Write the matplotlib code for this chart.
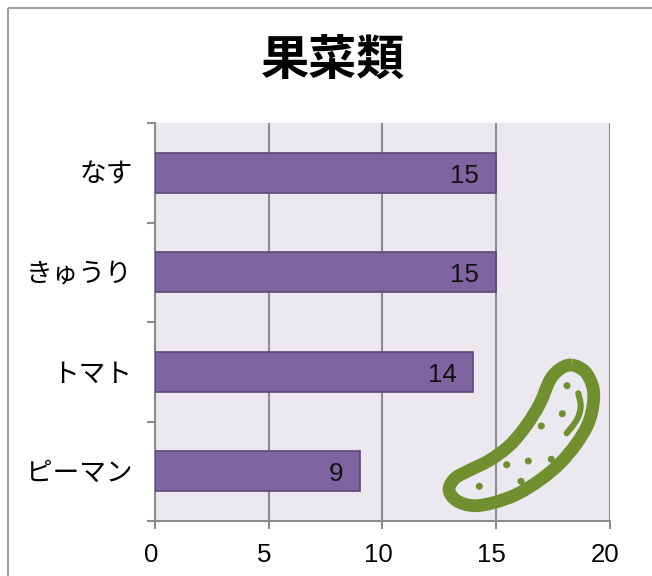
import matplotlib
matplotlib.use('Agg')
import matplotlib.pyplot as plt
from matplotlib.path import Path
from matplotlib.patches import PathPatch, Rectangle, Circle
from matplotlib.transforms import Affine2D, ScaledTranslation

plt.rcParams['font.family'] = ['Noto Sans CJK JP', 'DejaVu Sans']

categories = ['ピーマン', 'トマト', 'きゅうり', 'なす']
values = [9, 14, 15, 15]
xticks = [0, 5, 10, 15, 20]

W, H = 652, 576
GRAY = '#8c8c8c'
GREEN = '#70902f'
fig = plt.figure(figsize=(W / 100, H / 100), dpi=100)
# pixel coordinates, origin top left
px = Affine2D().scale(1, -1).translate(0, H)


# smooth curve through the given pixel points (Catmull-Rom to bezier)
def smooth_path(pts, closed):
    n = len(pts)
    verts = [pts[0]]
    codes = [Path.MOVETO]
    for i in range(n if closed else n - 1):
        if closed:
            p0, p1, p2, p3 = pts[(i - 1) % n], pts[i], pts[(i + 1) % n], pts[(i + 2) % n]
        else:
            p0, p1, p2, p3 = pts[max(i - 1, 0)], pts[i], pts[i + 1], pts[min(i + 2, n - 1)]
        verts.append((p1[0] + (p2[0] - p0[0]) / 6, p1[1] + (p2[1] - p0[1]) / 6))
        verts.append((p2[0] - (p3[0] - p1[0]) / 6, p2[1] - (p3[1] - p1[1]) / 6))
        verts.append(p2)
        codes += [Path.CURVE4] * 3
    return Path(verts, codes)


# outer frame of the chart
fig.add_artist(Rectangle((7.5, 7.5), 800, 800, transform=px, fill=False, edgecolor='#a0a0a0', linewidth=1.5))

ax = fig.add_axes([155 / W, 1 - 521 / H, (609.5 - 155) / W, (521 - 123) / H])
ax.set_facecolor('#ebe9ef')
ax.barh(range(4), values, height=0.405, color='#8064a2', edgecolor='#5c4776', linewidth=1.2, zorder=3)
ax.set_xlim(0, 20)
ax.set_ylim(-0.5, 3.5)
ax.xaxis.grid(True, color=GRAY, linewidth=1.5, zorder=1)
ax.set_axisbelow(True)
for s in ['top', 'right']:
    ax.spines[s].set_visible(False)
for s in ['left', 'bottom']:
    ax.spines[s].set_color(GRAY)
    ax.spines[s].set_linewidth(1.5)

ax.set_xticks(xticks)
ax.set_xticklabels([str(t) for t in xticks], fontsize=18.6, fontfamily=['Liberation Sans'])
ax.set_yticks([-0.5, 0.5, 1.5, 2.5, 3.5])
ax.set_yticklabels([])
ax.tick_params(axis='both', length=5.8, width=1.5, color=GRAY, labelcolor='black')
ax.tick_params(axis='x', pad=10)
# tick labels sit a little left of their ticks
shift = ScaledTranslation(-4 / 100, 0, fig.dpi_scale_trans)
for lab in ax.get_xticklabels():
    lab.set_transform(lab.get_transform() + shift)

for i, cat in enumerate(categories):
    ax.annotate(cat, (0, i), xytext=(-16.2, -1.5), textcoords='offset points', ha='right', va='center', fontsize=19.2)
    ax.annotate(str(values[i]), (values[i], i), xytext=(-12, -2), textcoords='offset points', ha='right', va='center',
                fontsize=18.6, fontfamily=['Liberation Sans'], color='#111111', zorder=5)

fig.text(333 / W, 1 - 60 / H, '果菜類', ha='center', va='center', fontsize=34.7, fontweight='bold')

# cucumber icon, traced in pixels
outline = [(571.7, 365), (585, 371.7), (592.7, 386.7), (593.3, 403.3), (588.3, 423.3), (576.7, 443.3),
           (560, 463.3), (540, 480), (516.7, 494.3), (493.3, 502.7), (473.3, 505.7), (456.7, 500.7),
           (449, 490), (455, 478.3), (470, 470), (490, 460), (510, 445), (526.7, 425), (540, 403.3),
           (550, 380), (560, 369)]
inner = [(578.3, 393.3), (580.7, 406.7), (576.7, 420), (566.7, 433.3)]
dots = [(567, 385.7), (562.3, 413.7), (541.3, 426), (551.3, 459.3), (528.3, 461), (506.7, 464.7), (521, 481.3), (479.3, 486.3)]
fig.add_artist(PathPatch(smooth_path(outline, True), transform=px, fill=False, edgecolor=GREEN, linewidth=9.2,
                         joinstyle='round'))
fig.add_artist(PathPatch(smooth_path(inner, False), transform=px, fill=False, edgecolor=GREEN, linewidth=4.4,
                         capstyle='round'))
for cx, cy in dots:
    fig.add_artist(Circle((cx, cy), 2.8, transform=px, color=GREEN))

fig.savefig('out.png', dpi=100)
